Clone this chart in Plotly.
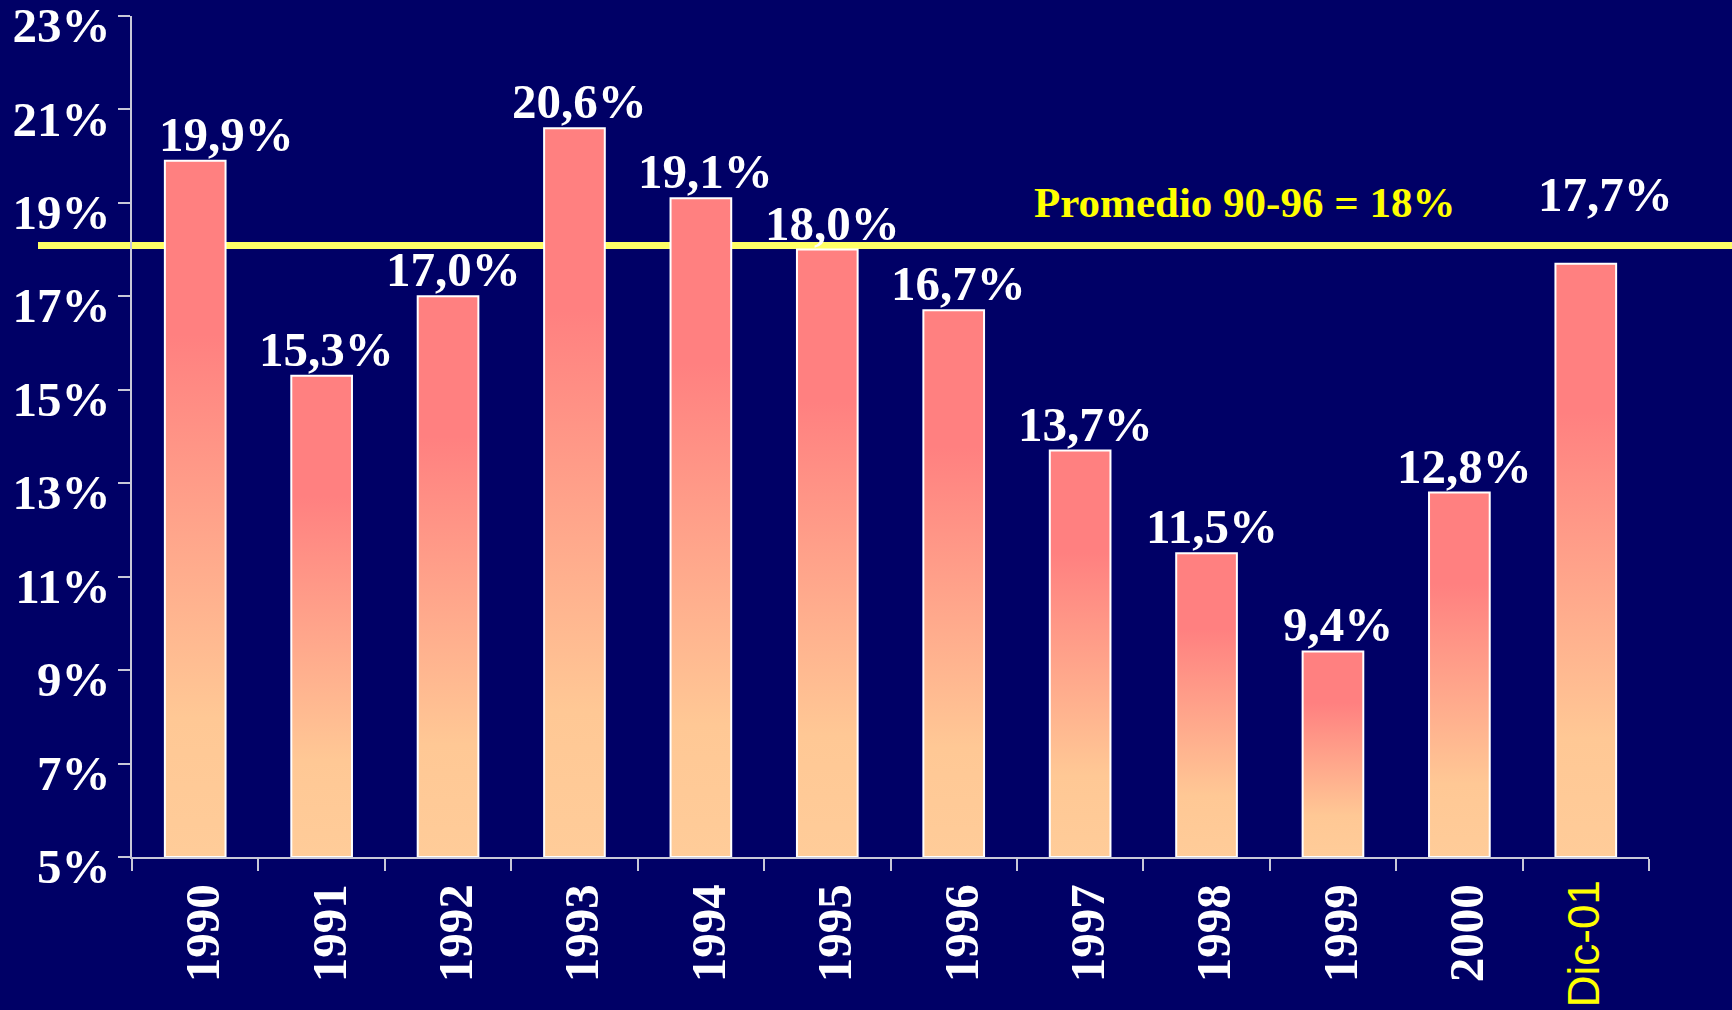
import plotly.graph_objects as go

# ---- data ----
categories = ["1990", "1991", "1992", "1993", "1994", "1995", "1996",
              "1997", "1998", "1999", "2000", "Dic-01"]
values = [19.9, 15.3, 17.0, 20.6, 19.1, 18.0, 16.7, 13.7, 11.5, 9.4, 12.8, 17.7]
value_labels = ["19,9%", "15,3%", "17,0%", "20,6%", "19,1%", "18,0%", "16,7%",
                "13,7%", "11,5%", "9,4%", "12,8%", "17,7%"]
avg_label = "Promedio 90-96 = 18%"
avg_years = ["1990", "1991", "1992", "1993", "1994", "1995", "1996"]
y_min, y_max, y_step = 5, 23, 2

# ---- style ----
BG = "#000066"
AXIS_COL = "#C8C8D8"
SERIF = "Liberation Serif, Times New Roman, serif"
SANS = "Liberation Sans, Arial, sans-serif"
BAR_W = 0.48
GRAD = [[0.0, "#FFCC99"], [0.2, "#FFC895"], [0.75, "#FF8080"], [1.0, "#FF8080"]]
label_xshift = {"1990": 31, "Dic-01": 20}
label_yshift = {"Dic-01": 40}
special_cat = "Dic-01"   # drawn in sans yellow, as in the original

avg = sum(values[categories.index(c)] for c in avg_years) / len(avg_years)

fig = go.Figure()
for i, (c, v) in enumerate(zip(categories, values)):
    x0, x1 = i - BAR_W / 2, i + BAR_W / 2
    fig.add_trace(go.Scatter(
        x=[x0, x1, x1, x0, x0], y=[y_min, y_min, v, v, y_min],
        mode="lines", fill="toself",
        fillgradient=dict(type="vertical", colorscale=GRAD, start=y_min, stop=v),
        line=dict(color="white", width=2),
        hoverinfo="skip", showlegend=False, name=c,
    ))

for i, (c, v, t) in enumerate(zip(categories, values, value_labels)):
    fig.add_annotation(
        x=i, y=v, text=t, showarrow=False, xanchor="center", yanchor="bottom",
        xshift=label_xshift.get(c, 5), yshift=label_yshift.get(c, -3),
        font=dict(family=SERIF, size=49, color="white", weight="bold"),
    )

# average line
fig.add_shape(
    type="line", xref="paper", yref="paper",
    x0=-94 / 1517, x1=1.06,
    y0=(avg - y_min) / (y_max - y_min), y1=(avg - y_min) / (y_max - y_min),
    line=dict(color="#FFFF66", width=7), layer="below",
)
fig.add_annotation(
    x=8.3, y=19.0, text=avg_label, showarrow=False,
    xanchor="center", yanchor="middle",
    font=dict(family=SERIF, size=43, color="#FFFF00", weight="bold"),
)

ticktext = ["" if c == special_cat else c for c in categories]
si = categories.index(special_cat)
fig.add_annotation(
    x=si, y=0, yref="paper", text=special_cat, showarrow=False, textangle=-90,
    xanchor="center", yanchor="top", yshift=-21, xshift=-2,
    font=dict(family=SANS, size=44, color="#FFFF00"),
)

fig.update_layout(
    template="none",
    width=1732, height=1010,
    margin=dict(l=132, r=83, t=16, b=153, pad=0),
    paper_bgcolor=BG, plot_bgcolor=BG,
    showlegend=False,
    xaxis=dict(
        range=[-0.5, len(categories) - 0.5], showgrid=False, zeroline=False,
        showline=True, linecolor=AXIS_COL, linewidth=1.5,
        tickmode="array", tickvals=list(range(len(categories))), ticktext=ticktext,
        ticks="", tickangle=-90, ticklabelstandoff=6, ticklabelshift=8,
        ticklabeloverflow="allow",
        tickfont=dict(family=SERIF, size=49, color="white", weight="bold"),
        minor=dict(tickmode="array",
                   tickvals=[i - 0.5 for i in range(len(categories) + 1)],
                   ticks="outside", ticklen=12, tickcolor=AXIS_COL, tickwidth=1.5,
                   showgrid=False),
        automargin=False, fixedrange=True,
    ),
    yaxis=dict(
        range=[y_min, y_max], showgrid=False, zeroline=False,
        showline=True, linecolor=AXIS_COL, linewidth=1.5,
        tickmode="linear", tick0=y_min, dtick=y_step, ticksuffix="%",
        ticks="outside", ticklen=12, tickcolor=AXIS_COL, tickwidth=1.5,
        ticklabelstandoff=-2, ticklabelshift=9, ticklabeloverflow="allow",
        tickfont=dict(family=SERIF, size=49, color="white", weight="bold"),
        automargin=False, fixedrange=True,
    ),
)

fig.write_html("out.html", config={"displayModeBar": False},
               post_script="document.body.style.margin='0';document.body.style.overflow='hidden';")
